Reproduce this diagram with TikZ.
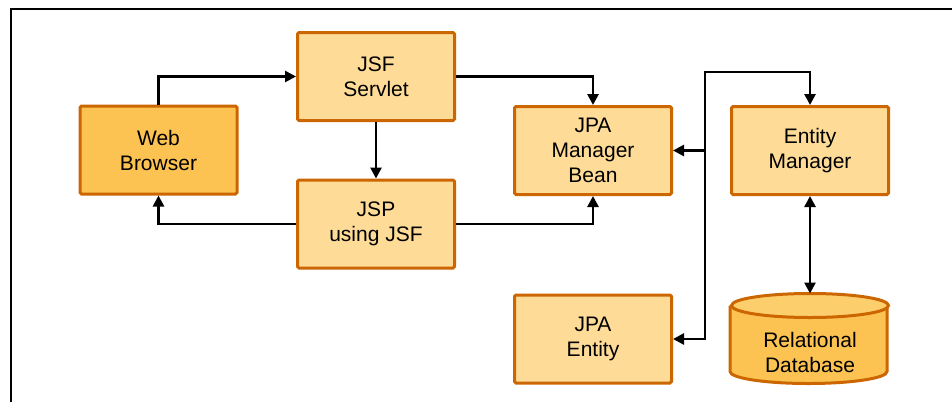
\documentclass[tikz,border=0pt]{standalone}
\usepackage{fontspec}
\setmainfont{Liberation Sans}
\usetikzlibrary{arrows.meta}
\definecolor{boxfill}{HTML}{FEDC98}
\definecolor{darkfill}{HTML}{FCC352}
\definecolor{dbtop}{HTML}{FDCE6C}
\definecolor{edge}{HTML}{CC6600}
\tikzset{
  comp/.style={draw=edge, fill=boxfill, line width=3pt, rounded corners=1.5pt,
    minimum width=157pt, minimum height=88pt, inner sep=0pt, align=center,
    font=\fontsize{21}{25}\selectfont},
  arr/.style={line width=2.6pt, -{Triangle[length=11pt,width=11pt]}},
}
\begin{document}
\begin{tikzpicture}[x=1pt, y=-1pt]
  \useasboundingbox (0,0) rectangle (952,402);
  \draw[line width=1.8pt] (11,402) -- (11,9) -- (952,9);

  \node[comp, fill=darkfill] (wb) at (158.5,150) {Web\\Browser};
  \node[comp] (servlet) at (376,76.5) {JSF\\Servlet};
  \node[comp] (jsp) at (376,224) {JSP\\using JSF};
  \node[comp] (mgr) at (593,150.5) {JPA\\Manager\\Bean};
  \node[comp] (ent) at (593,339) {JPA\\Entity};
  \node[comp] (em) at (810,150.5) {Entity\\Manager};
  \node[comp, draw=none, fill=none] (db) at (810,339) {};

  % database cylinder
  \draw[draw=edge, fill=darkfill, line width=3pt]
    (db.north west) ++(0,12) -- ++(0,66) arc[start angle=180, end angle=360, x radius=78.5, y radius=-12]
    -- ++(0,-66);
  \draw[draw=edge, fill=dbtop, line width=3pt] (db.north) ++(0,12) ellipse[x radius=78.5, y radius=12];
  \node[align=center, font=\fontsize{21}{25}\selectfont] (dbtext) at (810,352) {Relational\\Database};

  \draw[arr] (wb.north) |- (servlet.west);
  \draw[arr] (servlet.east) -| (mgr.north);
  \draw[arr] (servlet.south) -- (jsp.north);
  \draw[arr] (jsp.west) -| (wb.south);
  \draw[arr] (jsp.east) -| (mgr.south);

  \coordinate (bus) at (705,150.5);
  \coordinate (bustop) at (705,72);
  \draw[arr] (bus) -- (mgr.east);
  \draw[arr] (bus) |- (ent.east);
  \draw[arr] (bus) -- (bustop) -| (em.north);
  \draw[arr, {Triangle[length=11pt,width=11pt]}-{Triangle[length=11pt,width=11pt]}] (em.south) -- (db.north);
\end{tikzpicture}
\end{document}
